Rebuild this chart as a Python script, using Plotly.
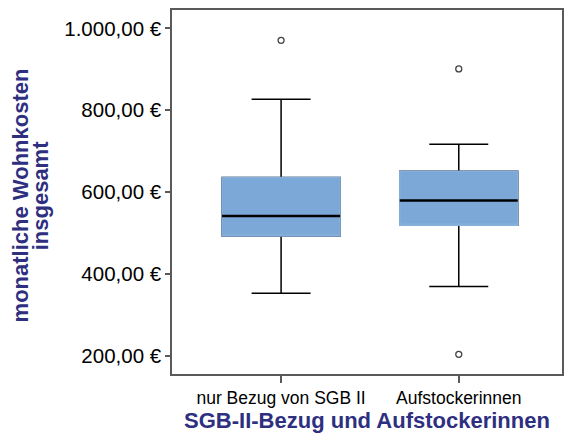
import plotly.graph_objects as go

categories = ["nur Bezug von SGB II", "Aufstockerinnen"]
q1 = [493, 519]
median = [542, 580]
q3 = [636, 651]
lowerfence = [353, 370]
upperfence = [827, 717]
outlier_x = ["nur Bezug von SGB II", "Aufstockerinnen", "Aufstockerinnen"]
outlier_y = [971, 901, 204]
ytick_vals = [200, 400, 600, 800, 1000]
ytick_text = ["200,00 €", "400,00 €", "600,00 €", "800,00 €", "1.000,00 €"]
ytitle_lines = ["monatliche Wohnkosten", "insgesamt"]
xtitle = "SGB-II-Bezug und Aufstockerinnen"

BLUE = "#7BA8D6"
NAVY = "#2E2F7F"
FRAME = "#5a5a5a"
W = 0.664

fig = go.Figure()
# whiskers + box (black)
fig.add_trace(go.Box(x=categories, q1=q1, median=median, q3=q3,
                     lowerfence=lowerfence, upperfence=upperfence,
                     fillcolor=BLUE, line=dict(color="black", width=1.5),
                     whiskerwidth=0.5, width=W, boxpoints=False, hoverinfo="skip",
                     showlegend=False))
# blue box cover (hide black box outline)
fig.add_trace(go.Box(x=categories, q1=q1, median=q1, q3=q3,
                     lowerfence=q1, upperfence=q3,
                     fillcolor=BLUE, line=dict(color="#86B0DB", width=1.5),
                     whiskerwidth=0, width=W, boxpoints=False, hoverinfo="skip",
                     showlegend=False))
# median line
fig.add_trace(go.Box(x=categories, q1=median, median=median, q3=median,
                     lowerfence=median, upperfence=median,
                     fillcolor="rgba(0,0,0,0)", line=dict(color="black", width=2.5),
                     whiskerwidth=0, width=W, boxpoints=False, hoverinfo="skip",
                     showlegend=False))
# outliers
fig.add_trace(go.Scatter(x=outlier_x, y=outlier_y, mode="markers",
                         marker=dict(symbol="circle-open", size=6, color="#444444",
                                     line=dict(width=1.3)),
                         showlegend=False, hoverinfo="skip"))

fig.update_layout(
    width=565, height=439,
    margin=dict(l=172, r=1, t=10, b=65),
    paper_bgcolor="white", plot_bgcolor="white",
    boxmode="overlay",
    font=dict(family="Liberation Sans, Arial, sans-serif", color="black"),
    xaxis=dict(
        type="category", categoryorder="array", categoryarray=categories,
        range=[-0.614, 1.581],
        showline=True, mirror=True, linecolor=FRAME, linewidth=1.5,
        ticks="outside", ticklen=7, tickcolor=FRAME, tickwidth=1.5,
        tickfont=dict(size=17.5, color="black"),
        showgrid=False, zeroline=False,
        title=dict(text="<b>" + xtitle + "</b>",
                   font=dict(size=22, color=NAVY), standoff=6),
    ),
    yaxis=dict(
        range=[156, 1045],
        tickvals=ytick_vals, ticktext=ytick_text,
        showline=True, mirror=True, linecolor=FRAME, linewidth=1.5,
        ticks="outside", ticklen=5, tickcolor=FRAME, tickwidth=1.5,
        tickfont=dict(size=20.5, color="black"),
        showgrid=False, zeroline=False,
    ),
    annotations=[
        dict(text="<b>" + ytitle_lines[0] + "</b>", textangle=-90,
             xref="paper", yref="paper", x=-172 / 392 + 20 / 392, y=0.49,
             xanchor="center", yanchor="middle", showarrow=False,
             font=dict(size=22, color=NAVY)),
        dict(text="<b>" + ytitle_lines[1] + "</b>", textangle=-90,
             xref="paper", yref="paper", x=-172 / 392 + 40 / 392, y=0.49,
             xanchor="center", yanchor="middle", showarrow=False,
             font=dict(size=22, color=NAVY)),
    ],
)

fig.write_html("out.html", config={"displayModeBar": False},
               post_script="document.body.style.margin='0';")
